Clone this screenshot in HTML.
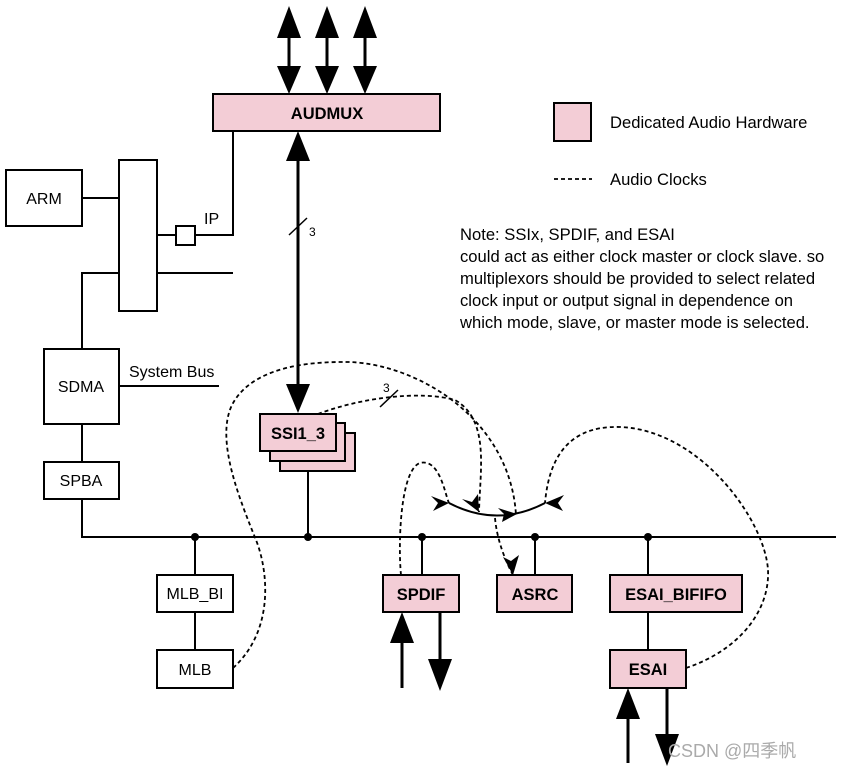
<!DOCTYPE html>
<html><head><meta charset="utf-8"><style>
html,body{margin:0;padding:0;background:#fff;}
svg{display:block;}
text{font-family:"Liberation Sans",sans-serif;fill:#000;}
.b{font-weight:bold;font-size:16.5px;}
.n{font-size:16px;}
.t{font-size:16.6px;}
</style></head><body>
<svg width="841" height="770" viewBox="0 0 841 770" xmlns="http://www.w3.org/2000/svg">
<g stroke="#000" stroke-width="2" fill="none">
<rect x="6" y="170" width="76" height="56" fill="#fff"/>
<rect x="119" y="160" width="38" height="151" fill="#fff"/>
<line x1="82" y1="198" x2="119" y2="198"/>
<line x1="157" y1="235" x2="176" y2="235"/>
<rect x="176" y="226" width="19" height="19" fill="#fff"/>
<polyline points="195,235 233,235 233,131"/>
<line x1="157" y1="273" x2="233" y2="273"/>
<polyline points="119,273 82,273 82,349"/>
<rect x="44" y="349" width="75" height="75" fill="#fff"/>
<line x1="119" y1="386" x2="219" y2="386"/>
<line x1="82" y1="424" x2="82" y2="462"/>
<rect x="44" y="462" width="75" height="37" fill="#fff"/>
<polyline points="82,499 82,537 836,537"/>
<line x1="195" y1="537" x2="195" y2="575"/>
<rect x="157" y="575" width="76" height="37" fill="#fff"/>
<line x1="195" y1="612" x2="195" y2="650"/>
<rect x="157" y="650" width="76" height="38" fill="#fff"/>
<rect x="213" y="94" width="227" height="37" fill="#f3cdd6"/>
<line x1="308" y1="537" x2="308" y2="470"/>
<rect x="280" y="433" width="75" height="38" fill="#f3cdd6"/>
<rect x="270" y="423" width="75" height="38" fill="#f3cdd6"/>
<rect x="260" y="414" width="76" height="37" fill="#f3cdd6"/>
<line x1="422" y1="537" x2="422" y2="575"/>
<rect x="383" y="575" width="76" height="37" fill="#f3cdd6"/>
<line x1="535" y1="537" x2="535" y2="575"/>
<rect x="497" y="575" width="75" height="37" fill="#f3cdd6"/>
<line x1="648" y1="537" x2="648" y2="575"/>
<rect x="610" y="575" width="132" height="37" fill="#f3cdd6"/>
<line x1="648" y1="612" x2="648" y2="650"/>
<rect x="610" y="650" width="76" height="38" fill="#f3cdd6"/>
<rect x="554" y="103" width="37" height="38" fill="#f3cdd6"/>
</g>
<g fill="#000">
<circle cx="195" cy="537" r="4"/><circle cx="308" cy="537" r="4"/><circle cx="422" cy="537" r="4"/><circle cx="535" cy="537" r="4"/><circle cx="648" cy="537" r="4"/>
</g>
<g stroke="#000" stroke-width="3" fill="none">
<line x1="289" y1="30" x2="289" y2="70"/><line x1="327" y1="30" x2="327" y2="70"/><line x1="365" y1="30" x2="365" y2="70"/>
<line x1="298" y1="157" x2="298" y2="388"/>
<line x1="402" y1="638" x2="402" y2="688"/>
<line x1="440" y1="612" x2="440" y2="665"/>
<line x1="628" y1="713" x2="628" y2="763"/>
<line x1="667" y1="688" x2="667" y2="740"/>
</g>
<g fill="#000">
<path d="M277,38 L289,6 L301,38 z"/><path d="M277,66 L289,94 L301,66 z"/>
<path d="M315,38 L327,6 L339,38 z"/><path d="M315,66 L327,94 L339,66 z"/>
<path d="M353,38 L365,6 L377,38 z"/><path d="M353,66 L365,94 L377,66 z"/>
<path d="M286,161 L298,131 L310,161 z"/>
<path d="M286,384 L298,413 L310,384 z"/>
<path d="M390,643 L402,612 L414,643 z"/>
<path d="M428,659 L440,691 L452,659 z"/>
<path d="M616,719 L628,688 L640,719 z"/>
<path d="M655,734 L667,766 L679,734 z"/>
</g>
<line x1="289" y1="235" x2="307" y2="218" stroke="#000" stroke-width="1.5"/>
<text x="309" y="236" font-size="12">3</text>
<path d="M449,503 Q497,528 545,503" stroke="#000" stroke-width="2" fill="none"/>
<g fill="#000">
<path d="M431,496 L449,503 L433,511 L438,503 z"/>
<path d="M462,499 L479,512 L478,494 L472,502 z"/>
<path d="M498,508 L517,514 L502,522 L504,514 z"/>
<path d="M564,495 L545,503 L563,511 L558,503 z"/>
<path d="M503,557 L513,575 L519,555 L511,561 z"/>
</g>
<g stroke="#000" stroke-width="1.8" fill="none" stroke-dasharray="4,3">
<path d="M233,668 C275,630 268,570 256,540 C240,500 215,440 232,405 C255,360 330,362 350,362 C420,365 510,420 516,515"/>
<path d="M318,414 C360,398 420,390 455,400 C490,420 480,470 479,512"/>
<path d="M401,575 C398,545 400,470 420,463 C440,458 445,495 449,503"/>
<path d="M495,518 C497,540 505,560 513,575"/>
<path d="M686,668 C740,650 770,610 768,570 C765,520 700,430 620,427 C560,425 548,470 545,503"/>
<line x1="554" y1="179" x2="592" y2="179"/>
</g>
<line x1="380" y1="407" x2="398" y2="390" stroke="#000" stroke-width="1.5"/>
<text x="383" y="392" font-size="12">3</text>
<text class="b" x="327" y="119" text-anchor="middle">AUDMUX</text>
<text class="b" x="298" y="439" text-anchor="middle">SSI1_3</text>
<text class="b" x="421" y="600" text-anchor="middle">SPDIF</text>
<text class="b" x="535" y="600" text-anchor="middle">ASRC</text>
<text class="b" x="676" y="600" text-anchor="middle">ESAI_BIFIFO</text>
<text class="b" x="648" y="675" text-anchor="middle">ESAI</text>
<text class="n" x="44" y="204" text-anchor="middle">ARM</text>
<text class="n" x="204" y="224">IP</text>
<text class="n" x="81" y="392" text-anchor="middle">SDMA</text>
<text class="n" x="81" y="486" text-anchor="middle">SPBA</text>
<text class="n" x="129" y="377">System Bus</text>
<text class="n" x="195" y="599" text-anchor="middle">MLB_BI</text>
<text class="n" x="195" y="675" text-anchor="middle">MLB</text>
<text class="t" x="610" y="128">Dedicated Audio Hardware</text>
<text class="t" x="610" y="185">Audio Clocks</text>
<text class="t" x="460" y="240">Note:  SSIx, SPDIF, and ESAI</text>
<text class="t" x="460" y="262">could act as either clock master or clock slave. so</text>
<text class="t" x="460" y="284">multiplexors should be provided to select related</text>
<text class="t" x="460" y="306">clock input or output signal in dependence on</text>
<text class="t" x="460" y="328">which mode, slave, or master mode is selected.</text>
<text x="668" y="757" font-size="18" style="font-family:'Liberation Sans','Noto Sans CJK SC',sans-serif;fill:#aaa">CSDN @四季帆</text>
</svg>
</body></html>
